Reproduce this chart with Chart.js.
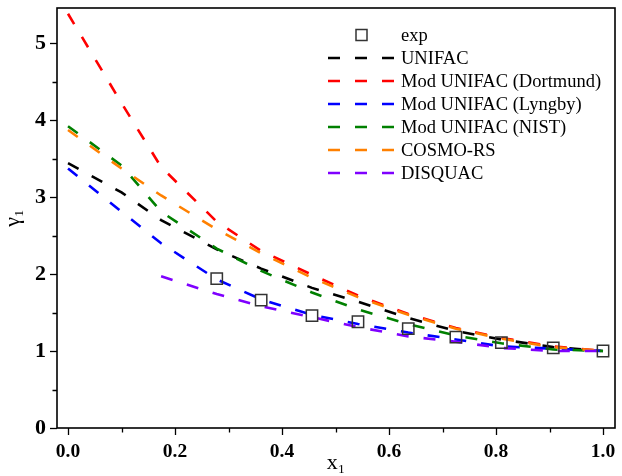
<!DOCTYPE html>
<html>
<head>
<meta charset="utf-8">
<script src="https://cdn.jsdelivr.net/npm/chart.js@4.4.0/dist/chart.umd.min.js"></script>
<style>
  html, body { margin: 0; padding: 0; background: #fff; }
</style>
</head>
<body>
<canvas id="chart" width="622" height="476"></canvas>
<script>
// model curves are evaluated on this composition grid
const xModel = [0, 0.1, 0.174, 0.278, 0.361, 0.456, 0.542, 0.636, 0.725, 0.810, 0.907, 1.0];
const unifac    = [3.44, 3.06, 2.70, 2.32, 2.07, 1.82, 1.64, 1.43, 1.26, 1.15, 1.05, 1.0];
const dortmund  = [5.38, 4.22, 3.39, 2.68, 2.30, 1.99, 1.72, 1.48, 1.30, 1.17, 1.06, 1.0];
const lyngby    = [3.37, 2.81, 2.40, 1.93, 1.67, 1.47, 1.35, 1.24, 1.15, 1.06, 1.03, 1.0];
const nist      = [3.92, 3.41, 2.81, 2.33, 2.04, 1.76, 1.54, 1.35, 1.20, 1.10, 1.02, 1.0];
const cosmors   = [3.87, 3.37, 3.02, 2.58, 2.27, 1.95, 1.70, 1.47, 1.29, 1.16, 1.05, 1.0];
const disquac   = [null, null, 1.97, 1.74, 1.58, 1.44, 1.31, 1.19, 1.12, 1.04, 1.0, 1.0];

// experimental points
const xExp = [0.278, 0.361, 0.456, 0.542, 0.636, 0.725, 0.810, 0.907, 1.0];
const yExp = [1.94, 1.66, 1.46, 1.38, 1.29, 1.18, 1.11, 1.04, 1.0];

const xTicks = [0, 0.2, 0.4, 0.6, 0.8, 1.0];
const xMinor = [0.1, 0.3, 0.5, 0.7, 0.9];
const yTicks = [0, 1, 2, 3, 4, 5];
const yMinor = [0.5, 1.5, 2.5, 3.5, 4.5];

const labels = ["exp", "UNIFAC", "Mod UNIFAC (Dortmund)", "Mod UNIFAC (Lyngby)",
                "Mod UNIFAC (NIST)", "COSMO-RS", "DISQUAC"];
const colors = ["#333333", "#000000", "#ff0000", "#0000ff", "#008000", "#ff8000", "#7f00ff"];

const SERIF = '"Liberation Serif", "Times New Roman", serif';
const DASH = [12, 15];

function pts(xs, ys) {
  return xs.map((x, i) => ({ x: x, y: ys[i] })).filter(p => p.y !== null);
}

function lineSet(i, ys) {
  return {
    label: labels[i],
    data: pts(xModel, ys),
    showLine: true,
    borderColor: colors[i],
    backgroundColor: colors[i],
    borderWidth: 2.6,
    borderDash: DASH,
    pointRadius: 0,
    tension: 0,
    order: 10 - i
  };
}

// frame, minor ticks and the in-plot legend
const extras = {
  id: "extras",
  afterDraw(chart) {
    const { ctx, chartArea: a, scales } = chart;
    const sx = scales.x, sy = scales.y;
    ctx.save();
    ctx.strokeStyle = "#000";
    ctx.lineWidth = 1.6;
    ctx.strokeRect(a.left, a.top, a.right - a.left, a.bottom - a.top);

    ctx.lineWidth = 1.3;
    ctx.beginPath();
    xMinor.forEach(v => {
      const px = Math.round(sx.getPixelForValue(v)) + 0.5;
      ctx.moveTo(px, a.bottom); ctx.lineTo(px, a.bottom + 4.5);
    });
    yMinor.forEach(v => {
      const py = Math.round(sy.getPixelForValue(v)) + 0.5;
      ctx.moveTo(a.left, py); ctx.lineTo(a.left - 4.5, py);
    });
    ctx.stroke();

    // legend
    const x0 = 328, x1 = 394, tx = 401;
    ctx.font = "18.5px " + SERIF;
    ctx.textBaseline = "middle";
    ctx.textAlign = "left";
    chart.data.datasets.forEach((ds, i) => {
      const y = 35 + i * 23;
      if (i === 0) {
        ctx.setLineDash([]);
        ctx.strokeStyle = ds.borderColor;
        ctx.lineWidth = 1.5;
        ctx.strokeRect(356, y - 5.5, 11, 11);
      } else {
        ctx.setLineDash(ds.borderDash);
        ctx.strokeStyle = ds.borderColor;
        ctx.lineWidth = ds.borderWidth;
        ctx.beginPath();
        ctx.moveTo(x0, y); ctx.lineTo(x1, y);
        ctx.stroke();
      }
      ctx.setLineDash([]);
      ctx.fillStyle = "#000";
      ctx.fillText(ds.label, tx, y + 1);
    });
    ctx.restore();
  }
};

new Chart(document.getElementById("chart"), {
  type: "scatter",
  data: {
    datasets: [
      {
        label: labels[0],
        data: pts(xExp, yExp),
        showLine: false,
        pointStyle: "rect",
        pointRadius: 8,
        pointBorderWidth: 1.5,
        borderColor: colors[0],
        pointBorderColor: colors[0],
        pointBackgroundColor: "rgba(0,0,0,0)",
        order: 0
      },
      lineSet(1, unifac),
      lineSet(2, dortmund),
      lineSet(3, lyngby),
      lineSet(4, nist),
      lineSet(5, cosmors),
      lineSet(6, disquac)
    ]
  },
  options: {
    responsive: false,
    animation: false,
    devicePixelRatio: 1,
    layout: { autoPadding: false, padding: { top: 8, right: 7, left: 0, bottom: 0 } },
    plugins: {
      legend: { display: false },
      tooltip: { enabled: false }
    },
    scales: {
      x: {
        type: "linear",
        min: -0.0206,
        max: 1.0224,
        afterBuildTicks: s => { s.ticks = xTicks.map(v => ({ value: v })); },
        afterFit: s => { s.height = 48; s.paddingLeft = 0; s.paddingRight = 0; },
        ticks: {
          color: "#000",
          padding: 5,
          font: { family: SERIF, size: 19.5, weight: "bold" },
          callback: v => v.toFixed(1)
        },
        grid: { drawOnChartArea: false, tickLength: 7, tickColor: "#000", tickWidth: 1.3 },
        border: { display: false },
        title: {
          display: true,
          text: "x\u2081",
          color: "#000",
          font: { family: SERIF, size: 22 },
          padding: { top: 0, bottom: 0 }
        }
      },
      y: {
        type: "linear",
        min: 0,
        max: 5.455,
        afterBuildTicks: s => { s.ticks = yTicks.map(v => ({ value: v })); },
        afterFit: s => { s.width = 57; s.paddingTop = 0; s.paddingBottom = 0; },
        ticks: {
          color: "#000",
          padding: 4,
          font: { family: SERIF, size: 22, weight: "bold" },
          callback: v => String(v)
        },
        grid: { drawOnChartArea: false, tickLength: 7, tickColor: "#000", tickWidth: 1.3 },
        border: { display: false },
        title: {
          display: true,
          text: "\u03b3\u2081",
          color: "#000",
          font: { family: SERIF, size: 22 },
          padding: { top: 0, bottom: 0, left: 3 }
        }
      }
    }
  },
  plugins: [extras]
});
</script>
</body>
</html>
